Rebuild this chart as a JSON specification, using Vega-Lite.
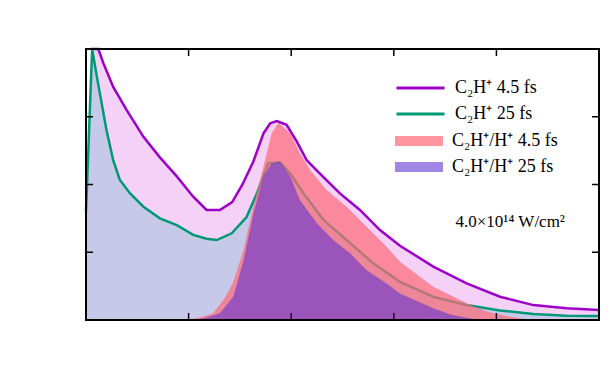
{
  "$schema": "https://vega.github.io/schema/vega-lite/v6.json",
  "width": 513,
  "height": 271,
  "autosize": {"type": "none"},
  "padding": {"left": 86, "top": 49, "right": 15, "bottom": 54},
  "background": "white",
  "config": {
    "view": {"stroke": null},
    "axis": {
      "grid": false,
      "domain": false,
      "ticks": false,
      "labelFont": "Liberation Serif",
      "labelFontSize": 18,
      "labelColor": "black",
      "titleFont": "Liberation Serif",
      "titleFontSize": 18,
      "titleFontWeight": "normal",
      "titleColor": "black"
    },
    "legend": {
      "labelFont": "Liberation Serif",
      "labelFontSize": 18,
      "labelColor": "black",
      "padding": 0,
      "clipHeight": 20,
      "rowPadding": 6,
      "labelOffset": 9,
      "labelLimit": 300
    }
  },
  "data": {"values": [
      {"x": 0.1, "y": 1.0, "s": "C₂H⁺ 4.5 fs"},
      {"x": 0.24, "y": 1.0, "s": "C₂H⁺ 4.5 fs"},
      {"x": 0.34, "y": 0.947, "s": "C₂H⁺ 4.5 fs"},
      {"x": 0.53, "y": 0.86, "s": "C₂H⁺ 4.5 fs"},
      {"x": 0.79, "y": 0.775, "s": "C₂H⁺ 4.5 fs"},
      {"x": 1.12, "y": 0.676, "s": "C₂H⁺ 4.5 fs"},
      {"x": 1.44, "y": 0.6, "s": "C₂H⁺ 4.5 fs"},
      {"x": 1.77, "y": 0.53, "s": "C₂H⁺ 4.5 fs"},
      {"x": 2.09, "y": 0.455, "s": "C₂H⁺ 4.5 fs"},
      {"x": 2.35, "y": 0.406, "s": "C₂H⁺ 4.5 fs"},
      {"x": 2.61, "y": 0.406, "s": "C₂H⁺ 4.5 fs"},
      {"x": 2.85, "y": 0.435, "s": "C₂H⁺ 4.5 fs"},
      {"x": 3.05, "y": 0.5, "s": "C₂H⁺ 4.5 fs"},
      {"x": 3.26, "y": 0.584, "s": "C₂H⁺ 4.5 fs"},
      {"x": 3.46, "y": 0.689, "s": "C₂H⁺ 4.5 fs"},
      {"x": 3.59, "y": 0.726, "s": "C₂H⁺ 4.5 fs"},
      {"x": 3.72, "y": 0.734, "s": "C₂H⁺ 4.5 fs"},
      {"x": 3.91, "y": 0.72, "s": "C₂H⁺ 4.5 fs"},
      {"x": 4.11, "y": 0.658, "s": "C₂H⁺ 4.5 fs"},
      {"x": 4.3, "y": 0.59, "s": "C₂H⁺ 4.5 fs"},
      {"x": 4.56, "y": 0.54, "s": "C₂H⁺ 4.5 fs"},
      {"x": 4.95, "y": 0.467, "s": "C₂H⁺ 4.5 fs"},
      {"x": 5.34, "y": 0.406, "s": "C₂H⁺ 4.5 fs"},
      {"x": 5.73, "y": 0.332, "s": "C₂H⁺ 4.5 fs"},
      {"x": 6.12, "y": 0.274, "s": "C₂H⁺ 4.5 fs"},
      {"x": 6.77, "y": 0.197, "s": "C₂H⁺ 4.5 fs"},
      {"x": 7.42, "y": 0.135, "s": "C₂H⁺ 4.5 fs"},
      {"x": 8.07, "y": 0.086, "s": "C₂H⁺ 4.5 fs"},
      {"x": 8.72, "y": 0.055, "s": "C₂H⁺ 4.5 fs"},
      {"x": 9.37, "y": 0.043, "s": "C₂H⁺ 4.5 fs"},
      {"x": 10.0, "y": 0.037, "s": "C₂H⁺ 4.5 fs"},
      {"x": 0.0, "y": 0.4, "s": "C₂H⁺ 25 fs"},
      {"x": 0.12, "y": 1.0, "s": "C₂H⁺ 25 fs"},
      {"x": 0.21, "y": 0.9, "s": "C₂H⁺ 25 fs"},
      {"x": 0.4, "y": 0.7, "s": "C₂H⁺ 25 fs"},
      {"x": 0.53, "y": 0.59, "s": "C₂H⁺ 25 fs"},
      {"x": 0.66, "y": 0.517, "s": "C₂H⁺ 25 fs"},
      {"x": 0.86, "y": 0.467, "s": "C₂H⁺ 25 fs"},
      {"x": 1.12, "y": 0.418, "s": "C₂H⁺ 25 fs"},
      {"x": 1.44, "y": 0.375, "s": "C₂H⁺ 25 fs"},
      {"x": 1.77, "y": 0.35, "s": "C₂H⁺ 25 fs"},
      {"x": 2.09, "y": 0.314, "s": "C₂H⁺ 25 fs"},
      {"x": 2.35, "y": 0.3, "s": "C₂H⁺ 25 fs"},
      {"x": 2.55, "y": 0.295, "s": "C₂H⁺ 25 fs"},
      {"x": 2.84, "y": 0.32, "s": "C₂H⁺ 25 fs"},
      {"x": 3.13, "y": 0.38, "s": "C₂H⁺ 25 fs"},
      {"x": 3.33, "y": 0.467, "s": "C₂H⁺ 25 fs"},
      {"x": 3.55, "y": 0.578, "s": "C₂H⁺ 25 fs"},
      {"x": 3.78, "y": 0.582, "s": "C₂H⁺ 25 fs"},
      {"x": 3.98, "y": 0.541, "s": "C₂H⁺ 25 fs"},
      {"x": 4.24, "y": 0.467, "s": "C₂H⁺ 25 fs"},
      {"x": 4.63, "y": 0.369, "s": "C₂H⁺ 25 fs"},
      {"x": 5.08, "y": 0.295, "s": "C₂H⁺ 25 fs"},
      {"x": 5.6, "y": 0.209, "s": "C₂H⁺ 25 fs"},
      {"x": 6.12, "y": 0.141, "s": "C₂H⁺ 25 fs"},
      {"x": 6.77, "y": 0.086, "s": "C₂H⁺ 25 fs"},
      {"x": 7.42, "y": 0.055, "s": "C₂H⁺ 25 fs"},
      {"x": 8.07, "y": 0.035, "s": "C₂H⁺ 25 fs"},
      {"x": 8.72, "y": 0.022, "s": "C₂H⁺ 25 fs"},
      {"x": 9.37, "y": 0.016, "s": "C₂H⁺ 25 fs"},
      {"x": 10.0, "y": 0.015, "s": "C₂H⁺ 25 fs"},
      {"x": 1.95, "y": 0.0, "s": "C₂H⁺/H⁺ 4.5 fs"},
      {"x": 2.2, "y": 0.008, "s": "C₂H⁺/H⁺ 4.5 fs"},
      {"x": 2.48, "y": 0.025, "s": "C₂H⁺/H⁺ 4.5 fs"},
      {"x": 2.7, "y": 0.08, "s": "C₂H⁺/H⁺ 4.5 fs"},
      {"x": 2.87, "y": 0.14, "s": "C₂H⁺/H⁺ 4.5 fs"},
      {"x": 3.07, "y": 0.258, "s": "C₂H⁺/H⁺ 4.5 fs"},
      {"x": 3.26, "y": 0.418, "s": "C₂H⁺/H⁺ 4.5 fs"},
      {"x": 3.46, "y": 0.566, "s": "C₂H⁺/H⁺ 4.5 fs"},
      {"x": 3.62, "y": 0.689, "s": "C₂H⁺/H⁺ 4.5 fs"},
      {"x": 3.75, "y": 0.728, "s": "C₂H⁺/H⁺ 4.5 fs"},
      {"x": 3.98, "y": 0.689, "s": "C₂H⁺/H⁺ 4.5 fs"},
      {"x": 4.17, "y": 0.615, "s": "C₂H⁺/H⁺ 4.5 fs"},
      {"x": 4.37, "y": 0.553, "s": "C₂H⁺/H⁺ 4.5 fs"},
      {"x": 4.69, "y": 0.48, "s": "C₂H⁺/H⁺ 4.5 fs"},
      {"x": 5.08, "y": 0.418, "s": "C₂H⁺/H⁺ 4.5 fs"},
      {"x": 5.47, "y": 0.344, "s": "C₂H⁺/H⁺ 4.5 fs"},
      {"x": 5.86, "y": 0.27, "s": "C₂H⁺/H⁺ 4.5 fs"},
      {"x": 6.12, "y": 0.215, "s": "C₂H⁺/H⁺ 4.5 fs"},
      {"x": 6.77, "y": 0.123, "s": "C₂H⁺/H⁺ 4.5 fs"},
      {"x": 7.42, "y": 0.062, "s": "C₂H⁺/H⁺ 4.5 fs"},
      {"x": 7.81, "y": 0.031, "s": "C₂H⁺/H⁺ 4.5 fs"},
      {"x": 8.26, "y": 0.012, "s": "C₂H⁺/H⁺ 4.5 fs"},
      {"x": 8.7, "y": 0.0, "s": "C₂H⁺/H⁺ 4.5 fs"},
      {"x": 2.0, "y": 0.0, "s": "C₂H⁺/H⁺ 25 fs"},
      {"x": 2.3, "y": 0.006, "s": "C₂H⁺/H⁺ 25 fs"},
      {"x": 2.61, "y": 0.025, "s": "C₂H⁺/H⁺ 25 fs"},
      {"x": 2.87, "y": 0.086, "s": "C₂H⁺/H⁺ 25 fs"},
      {"x": 3.07, "y": 0.22, "s": "C₂H⁺/H⁺ 25 fs"},
      {"x": 3.26, "y": 0.39, "s": "C₂H⁺/H⁺ 25 fs"},
      {"x": 3.46, "y": 0.53, "s": "C₂H⁺/H⁺ 25 fs"},
      {"x": 3.62, "y": 0.578, "s": "C₂H⁺/H⁺ 25 fs"},
      {"x": 3.78, "y": 0.584, "s": "C₂H⁺/H⁺ 25 fs"},
      {"x": 3.98, "y": 0.53, "s": "C₂H⁺/H⁺ 25 fs"},
      {"x": 4.17, "y": 0.443, "s": "C₂H⁺/H⁺ 25 fs"},
      {"x": 4.5, "y": 0.357, "s": "C₂H⁺/H⁺ 25 fs"},
      {"x": 4.82, "y": 0.295, "s": "C₂H⁺/H⁺ 25 fs"},
      {"x": 5.15, "y": 0.246, "s": "C₂H⁺/H⁺ 25 fs"},
      {"x": 5.47, "y": 0.184, "s": "C₂H⁺/H⁺ 25 fs"},
      {"x": 5.86, "y": 0.135, "s": "C₂H⁺/H⁺ 25 fs"},
      {"x": 6.12, "y": 0.098, "s": "C₂H⁺/H⁺ 25 fs"},
      {"x": 6.77, "y": 0.043, "s": "C₂H⁺/H⁺ 25 fs"},
      {"x": 7.1, "y": 0.02, "s": "C₂H⁺/H⁺ 25 fs"},
      {"x": 7.42, "y": 0.008, "s": "C₂H⁺/H⁺ 25 fs"},
      {"x": 7.7, "y": 0.0, "s": "C₂H⁺/H⁺ 25 fs"},
      {"x": 8.27, "y": 0.362, "s": "note", "label": "4.0×10¹⁴ W/cm²"},
      {"x": 2, "s": "xtick"},
      {"x": 4, "s": "xtick"},
      {"x": 6, "s": "xtick"},
      {"x": 8, "s": "xtick"},
      {"y": 0.25, "s": "ytick"},
      {"y": 0.5, "s": "ytick"},
      {"y": 0.75, "s": "ytick"}
  ]},
  "layer": [
    {
      "transform": [{"filter": "datum.s == 'C₂H⁺ 4.5 fs'"}],
      "mark": {"type": "area", "fill": "#f5d0f7"},
      "encoding": {
        "x": {"field": "x", "type": "quantitative", "scale": {"domain": [0, 10], "nice": false},
          "axis": {"orient": "bottom", "title": "KER (eV)", "values": [0, 2, 4, 6, 8, 10], "labelPadding": 12, "titlePadding": 3}},
        "y": {"field": "y", "type": "quantitative", "scale": {"domain": [0, 1], "nice": false},
          "axis": {"orient": "left", "title": "Signal (arb. units)", "values": [0, 0.25, 0.5, 0.75, 1], "labelExpr": "toString(datum.value)", "labelPadding": 7, "titlePadding": 19}}
      }
    },
    {
      "transform": [{"filter": "datum.s == 'C₂H⁺ 25 fs'"}],
      "mark": {"type": "area", "fill": "#c6c9e8"},
      "encoding": {
        "x": {"field": "x", "type": "quantitative", "axis": null},
        "y": {"field": "y", "type": "quantitative", "axis": null}
      }
    },
    {
      "transform": [{"filter": "datum.s == 'C₂H⁺ 4.5 fs' || datum.s == 'C₂H⁺ 25 fs'"}],
      "mark": {"type": "line", "strokeWidth": 2.5},
      "encoding": {
        "x": {"field": "x", "type": "quantitative", "axis": null},
        "y": {"field": "y", "type": "quantitative", "axis": null},
        "stroke": {"field": "s", "type": "nominal",
          "scale": {"domain": ["C₂H⁺ 4.5 fs", "C₂H⁺ 25 fs"], "range": ["#9d00c9", "#009977"]},
          "legend": {"title": null, "orient": "none", "legendX": 309, "legendY": 29, "symbolType": "stroke", "symbolSize": 2304, "symbolStrokeWidth": 3}}
      }
    },
    {
      "transform": [{"filter": "datum.s == 'C₂H⁺/H⁺ 4.5 fs'"}],
      "mark": {"type": "area"},
      "encoding": {
        "x": {"field": "x", "type": "quantitative", "axis": null},
        "y": {"field": "y", "type": "quantitative", "axis": null},
        "fill": {"field": "s", "type": "nominal",
          "scale": {"domain": ["C₂H⁺/H⁺ 4.5 fs", "C₂H⁺/H⁺ 25 fs"], "range": ["rgba(255,105,120,0.7)", "rgba(100,53,208,0.6)"]},
          "legend": {"title": null, "orient": "none", "legendX": 309, "legendY": 82, "symbolType": "M-1,-0.21H1V0.21H-1Z", "symbolSize": 2304, "symbolStrokeWidth": 0}}
      }
    },
    {
      "transform": [{"filter": "datum.s == 'C₂H⁺/H⁺ 25 fs'"}],
      "mark": {"type": "area"},
      "encoding": {
        "x": {"field": "x", "type": "quantitative", "axis": null},
        "y": {"field": "y", "type": "quantitative", "axis": null},
        "fill": {"field": "s", "type": "nominal"}
      }
    },
    {
      "transform": [{"filter": "datum.s == 'xtick'"}],
      "mark": {"type": "rule", "color": "#1a0026", "strokeWidth": 1.5},
      "encoding": {
        "x": {"field": "x", "type": "quantitative", "axis": null},
        "y": {"datum": 0, "axis": null},
        "y2": {"datum": 0.026}
      }
    },
    {
      "transform": [{"filter": "datum.s == 'xtick'"}],
      "mark": {"type": "rule", "color": "black", "strokeWidth": 1.5},
      "encoding": {
        "x": {"field": "x", "type": "quantitative", "axis": null},
        "y": {"datum": 1, "axis": null},
        "y2": {"datum": 0.974}
      }
    },
    {
      "transform": [{"filter": "datum.s == 'ytick'"}],
      "mark": {"type": "rule", "color": "black", "strokeWidth": 1.5},
      "encoding": {
        "y": {"field": "y", "type": "quantitative", "axis": null},
        "x": {"datum": 0, "axis": null},
        "x2": {"datum": 0.136}
      }
    },
    {
      "transform": [{"filter": "datum.s == 'ytick'"}],
      "mark": {"type": "rule", "color": "black", "strokeWidth": 1.5},
      "encoding": {
        "y": {"field": "y", "type": "quantitative", "axis": null},
        "x": {"datum": 10, "axis": null},
        "x2": {"datum": 9.864}
      }
    },
    {
      "transform": [{"filter": "datum.s == 'note'"}],
      "mark": {"type": "rect", "fill": "transparent", "stroke": "black", "strokeWidth": 2},
      "encoding": {
        "x": {"datum": 0, "axis": null},
        "x2": {"datum": 10},
        "y": {"datum": 0, "axis": null},
        "y2": {"datum": 1}
      }
    },
    {
      "transform": [{"filter": "datum.s == 'note'"}],
      "mark": {"type": "text", "font": "Liberation Serif", "fontSize": 17, "color": "black", "align": "center", "baseline": "middle"},
      "encoding": {
        "x": {"field": "x", "type": "quantitative", "axis": null},
        "y": {"field": "y", "type": "quantitative", "axis": null},
        "text": {"field": "label"}
      }
    }
  ]
}
